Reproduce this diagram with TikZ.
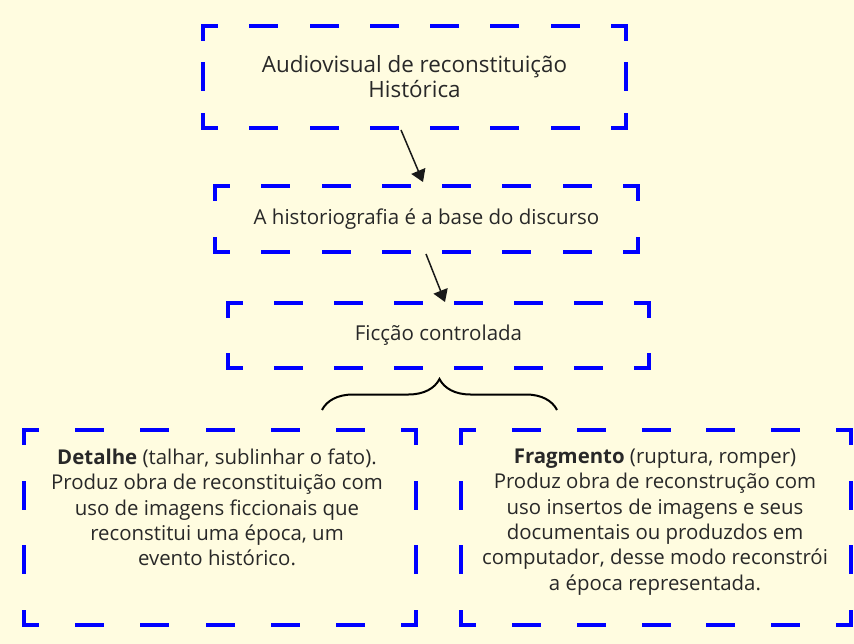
\documentclass[tikz,border=0pt]{standalone}
\usepackage{fontspec}
\setmainfont{Open Sans}
\usetikzlibrary{arrows.meta,decorations.pathreplacing}
\definecolor{bgcol}{RGB}{255,252,224}
\definecolor{framecol}{RGB}{0,0,255}
\definecolor{txtcol}{RGB}{40,40,40}
\newcommand\dframe[5]{%
  \pgfmathsetmacro\gh{(#2-26-25*#4)/(#4+1)}%
  \pgfmathsetmacro\gv{(#3-26-25*#5)/(#5+1)}%
  \draw[frameline, dash pattern=on 25pt off \gh pt, dash phase=12pt] (#1.north west) -- (#1.north east);
  \draw[frameline, dash pattern=on 25pt off \gh pt, dash phase=12pt] (#1.south west) -- (#1.south east);
  \draw[frameline, dash pattern=on 25pt off \gv pt, dash phase=12pt] (#1.north west) -- (#1.south west);
  \draw[frameline, dash pattern=on 25pt off \gv pt, dash phase=12pt] (#1.north east) -- (#1.south east);
}
\begin{document}
\begin{tikzpicture}[x=1pt,y=-1pt,
  frameline/.style={draw=framecol, line width=4pt, line cap=rect},
  boxnode/.style={inner sep=0pt, outer sep=0pt, text=txtcol, align=center,
     font=\fontsize{20.5}{25.2}\selectfont},
  bigbox/.style={boxnode, font=\fontsize{22.4}{25.2}\selectfont},
  txtnode/.style={inner sep=0pt, outer sep=0pt, text=txtcol, align=center,
     font=\fontsize{20.4}{25.3}\selectfont},
  arr/.style={draw=black!90, line width=1.5pt, -{Triangle[length=12pt,width=15pt]}},
  bracestyle/.style={draw=black, line width=2pt, decorate, decoration={brace, amplitude=31pt}}]
\fill[bgcol] (0,0) rectangle (854,644);
\useasboundingbox (0,0) rectangle (854,644);

\node[bigbox, minimum width=423pt, minimum height=102pt] (b1) at (414.5,77)
  {Audiovisual de reconstituição\\Histórica};
\node[boxnode, minimum width=423pt, minimum height=66pt] (b2) at (426.5,219)
  {A historiografia é a base do discurso};
\node[boxnode, minimum width=421pt, minimum height=65pt] (b3) at (438.5,335.5)
  {Ficção controlada};
\node[boxnode, minimum width=392pt, minimum height=195pt] (b4) at (220,527.5) {};
\node[boxnode, minimum width=390pt, minimum height=195pt] (b5) at (656,527.5) {};

\node[txtnode, anchor=north] (t4) at (217,449)
  {\textbf{Detalhe} (talhar, sublinhar o fato).\\Produz obra de reconstituição com\\uso de imagens ficcionais que\\reconstitui uma época, um\\evento histórico.};
\node[txtnode, anchor=north] (t5) at (655,449)
  {\textbf{Fragmento} (ruptura, romper)\\Produz obra de reconstrução com\\uso insertos de imagens e seus\\documentais ou produzdos em\\computador, desse modo reconstrói\\a época representada.};

\dframe{b1}{423}{102}{6}{1}
\dframe{b2}{423}{66}{6}{0}
\dframe{b3}{421}{65}{6}{0}
\dframe{b4}{392}{195}{5}{2}
\dframe{b5}{390}{195}{5}{2}

\draw[arr] ([xshift=-13.5pt,yshift=-2pt]b1.south) -- ([xshift=-3.5pt,yshift=4pt]b2.north);
\draw[arr] ([xshift=-0.5pt,yshift=-2pt]b2.south) -- ([xshift=6.5pt,yshift=1pt]b3.north);

\coordinate (brL) at (322,410);
\coordinate (brR) at (557,410);
\draw[bracestyle] (brL) -- (brR);
\end{tikzpicture}
\end{document}
